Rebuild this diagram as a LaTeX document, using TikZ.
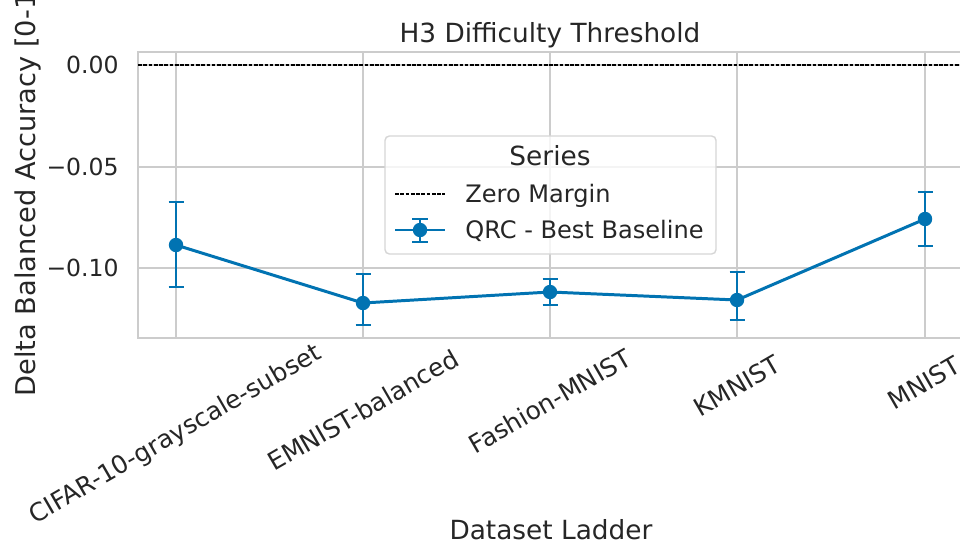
\documentclass[tikz,border=0pt]{standalone}
\usepackage{fontspec}
\setmainfont{DejaVu Sans}
\definecolor{ink}{HTML}{262626}
\definecolor{gridgray}{HTML}{CCCCCC}
\definecolor{qrcblue}{HTML}{0173B2}
\begin{document}
\begin{tikzpicture}[
    x=0.02cm, y=-0.02cm,
    gridline/.style={draw=gridgray,line width=1.1pt},
    frame/.style={draw=gridgray,line width=1.4pt},
    ticklabel/.style={text=ink,font=\fontsize{13.4}{16}\selectfont,inner sep=0pt},
    catlabel/.style={ticklabel,font=\fontsize{14.2}{17}\selectfont,rotate=30},
    legtext/.style={ticklabel,font=\fontsize{13.7}{16}\selectfont},
    bigtext/.style={text=ink,font=\fontsize{15}{18}\selectfont,inner sep=0pt},
    series/.style={draw=qrcblue,line width=1.7pt},
    errbar/.style={draw=qrcblue,line width=1.5pt},
    dot/.style={circle,fill=qrcblue,inner sep=0pt,minimum size=8.2pt},
    zeroline/.style={draw=black,line width=0.7pt,dash pattern=on 2.1pt off 0.9pt},
    legendbox/.style={draw=gridgray!80,fill=white,fill opacity=0.8,line width=0.8pt,rounded corners=2.5pt}
]
\useasboundingbox (0,0) rectangle (960,544);
\fill[white] (0,0) rectangle (960,544);
\clip (0,0) rectangle (960,544);

% grid and frame
\foreach \gx in {176,363,550,737,925}
  \draw[gridline] (\gx,52) -- (\gx,338);
\foreach \gy in {65,167,268}
  \draw[gridline] (138,\gy) -- (970,\gy);
\draw[frame] (138,52) rectangle (970,338);

% zero margin
\draw[zeroline] (138,65) -- (970,65);

% y ticks
\node[ticklabel,anchor=east] (ytick0) at (119,65) {0.00};
\node[ticklabel,anchor=east] (ytick1) at (119,167) {−0.05};
\node[ticklabel,anchor=east] (ytick2) at (119,268) {−0.10};

% data points with error bars
\foreach \name/\px/\py/\ptop/\pbot in {cifar/176/245/202/287,emnist/363/303/274/325,fashion/550/292/279/305,kmnist/737/300/272/320,mnist/925/219/192/246}{
  \coordinate (\name) at (\px,\py);
  \coordinate (\name-top) at (\px,\ptop);
  \coordinate (\name-bot) at (\px,\pbot);
}
\draw[series] (cifar) -- (emnist) -- (fashion) -- (kmnist) -- (mnist);
\foreach \name in {cifar,emnist,fashion,kmnist,mnist}{
  \draw[errbar] (\name-top) -- (\name-bot);
  \draw[errbar] ([xshift=-0.15cm]\name-top) -- ([xshift=0.15cm]\name-top);
  \draw[errbar] ([xshift=-0.15cm]\name-bot) -- ([xshift=0.15cm]\name-bot);
  \node[dot] at (\name) {};
}

% x tick labels
\node[catlabel] (xcifar) at (176,435) {CIFAR-10-grayscale-subset};
\node[catlabel] (xemnist) at (363,410) {EMNIST-balanced};
\node[catlabel] (xfashion) at (550,401) {Fashion-MNIST};
\node[catlabel] (xkmnist) at (737,386) {KMNIST};
\node[catlabel] (xmnist) at (924,383) {MNIST};

% titles
\node[bigtext,anchor=base] (title) at (550,43) {H3 Difficulty Threshold};
\node[bigtext,anchor=base] (xlabel) at (551,539) {Dataset Ladder};
\node[bigtext,font=\fontsize{15.5}{18}\selectfont,rotate=90,anchor=base west] (ylabel) at (35,397) {Delta Balanced Accuracy [0-1]};

% legend
\draw[legendbox] (385,136) rectangle (716,254);
\node[bigtext,anchor=base] (legtitle) at (550,165) {Series};
\coordinate (zeroA) at (395,194);
\coordinate (zeroB) at (445,194);
\draw[zeroline] (zeroA) -- (zeroB);
\node[legtext,anchor=base west] (legzero) at (465,202) {Zero Margin};
\coordinate (qrcA) at (395,230);
\coordinate (qrcB) at (445,230);
\coordinate (qrcM) at (420,230);
\draw[series] (qrcA) -- (qrcB);
\draw[errbar] (420,219) -- (420,242);
\draw[errbar] (412,219) -- (428,219);
\draw[errbar] (412,242) -- (428,242);
\node[dot] at (qrcM) {};
\node[legtext,anchor=base west] (legqrc) at (465,238) {QRC - Best Baseline};
\end{tikzpicture}
\end{document}
